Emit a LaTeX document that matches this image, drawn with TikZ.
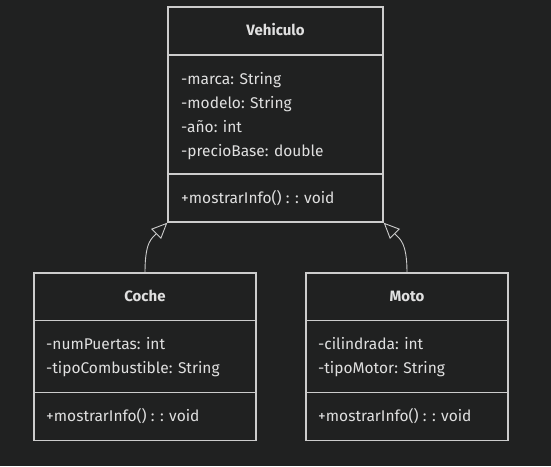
\documentclass[tikz,border=0pt]{standalone}
\usepackage{fontspec}
\setmainfont{Fira Sans}
\usetikzlibrary{arrows.meta}

\definecolor{bg}{RGB}{32,33,33}
\definecolor{edge}{RGB}{204,204,204}
\definecolor{ink}{RGB}{224,224,224}

\tikzset{
  classbox/.style={draw=edge, fill=bg, line width=1.3pt, inner sep=0pt},
  sep/.style={draw=edge, line width=1.3pt},
  member/.style={anchor=base west, inner sep=0pt, text=ink, font=\fontsize{15.5}{18}\selectfont},
  classname/.style={anchor=base, inner sep=0pt, text=ink, font=\fontsize{15}{18}\selectfont\bfseries},
  inherit/.style={draw=edge, line width=0.9pt, -{Triangle[length=16pt, width=14pt, fill=bg]}}
}

\begin{document}
\begin{tikzpicture}[x=1pt,y=-1pt]

\fill[bg] (0,0) rectangle (551,466);

% parent class
\node[classbox, minimum width=215pt, minimum height=215pt] (vehiculo) at (275.5,114.5) {};
\draw[sep] (168,55) -- (383,55);
\draw[sep] (168,174) -- (383,174);
\node[classname] (vehiculo-name) at (275.5,35.5) {Vehiculo};
\foreach \txt [count=\i] in {-marca: String, -modelo: String, -año: int, -precioBase: double}
  \node[member] (vehiculo-attr\i) at (181,60+24*\i) {\txt};
\node[member] (vehiculo-op) at (181,203) {+mostrarInfo() : : void};

% child classes
\node[classbox, minimum width=222pt, minimum height=167.5pt] (coche) at (145,356.75) {};
\draw[sep] (34,320.5) -- (256,320.5);
\draw[sep] (34,392.5) -- (256,392.5);
\node[classname] (coche-name) at (145,301.5) {Coche};
\foreach \txt [count=\i] in {-numPuertas: int, -tipoCombustible: String}
  \node[member] (coche-attr\i) at (46,325+24*\i) {\txt};
\node[member] (coche-op) at (46,421) {+mostrarInfo() : : void};

\node[classbox, minimum width=202pt, minimum height=167.5pt] (moto) at (407,356.75) {};
\draw[sep] (306,320.5) -- (508,320.5);
\draw[sep] (306,392.5) -- (508,392.5);
\node[classname] (moto-name) at (407,301.5) {Moto};
\foreach \txt [count=\i] in {-cilindrada: int, -tipoMotor: String}
  \node[member] (moto-attr\i) at (318,325+24*\i) {\txt};
\node[member] (moto-op) at (318,421) {+mostrarInfo() : : void};

% inheritance
\draw[inherit] (coche.north) .. controls +(0,-30) and +(-16,16) .. (vehiculo.south west);
\draw[inherit] (moto.north) .. controls +(0,-30) and +(16,16) .. (vehiculo.south east);

\end{tikzpicture}
\end{document}
